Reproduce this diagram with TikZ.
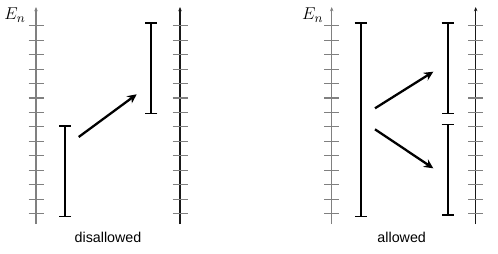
\documentclass[tikz,border=0pt]{standalone}
\usepackage{fontspec}
\setsansfont{Liberation Sans}
\usetikzlibrary{arrows.meta}

\begin{document}
\begin{tikzpicture}[
  x=0.7pt, y=-0.7pt, >=Stealth,
  axisline/.style={line width=0.8pt, -{Stealth[length=3pt, width=2.4pt]}},
  rung/.style={line width=0.8pt, draw=black!50},
  band/.style={line width=1.2pt, {Bar[width=8.4pt]}-{Bar[width=8.4pt]}},
  jump/.style={line width=1.6pt, -{Stealth[length=6.5pt, width=6.2pt]}},
  caption/.style={font=\sffamily},
  levelname/.style={font=\fontsize{13}{15}\selectfont}
]
  \useasboundingbox (0,0) rectangle (498,253);

  % energy axes with level ticks
  \foreach \ax/\col [count=\k] in {36/black!50, 180/black!90, 331.7/black!50, 475.7/black!90}{
    \coordinate (axbot\k) at (\ax,224);
    \coordinate (axtop\k) at (\ax,7);
    \draw[axisline, \col] (axbot\k) -- (axtop\k);
    \foreach \i in {0,...,13}
      \draw[rung] (\ax-7.5,25.7+\i*14.46) -- (\ax+7.5,25.7+\i*14.46);
  }

  % axis labels
  \node[levelname] (enA) at (15,15) {$E_n$};
  \node[levelname] (enB) at (312.7,15) {$E_n$};

  % LEFT: disallowed
  \coordinate (loAtop) at (65,125);
  \coordinate (loAbot) at (65,217.3);
  \coordinate (hiAtop) at (151.3,22.3);
  \coordinate (hiAbot) at (151.3,114.3);
  \draw[band] (loAbot) -- (loAtop);
  \draw[band] (hiAbot) -- (hiAtop);

  \coordinate (jumpA) at (78.7,137);
  \coordinate (landA) at (136.7,94.3);
  \draw[jump] (jumpA) -- (landA);

  \node[caption] (capA) at (108,237) {disallowed};

  % RIGHT: allowed
  \coordinate (wideBtop) at (360.7,22.3);
  \coordinate (wideBbot) at (360.7,217.3);
  \coordinate (upBtop) at (447.7,22.3);
  \coordinate (upBbot) at (447.7,114.3);
  \coordinate (dnBtop) at (447.7,123.7);
  \coordinate (dnBbot) at (447.7,216);
  \draw[band] (wideBbot) -- (wideBtop);
  \draw[band] (upBbot) -- (upBtop);
  \draw[band] (dnBbot) -- (dnBtop);

  \coordinate (jumpBup) at (375,108.3);
  \coordinate (landBup) at (433.3,71.7);
  \coordinate (jumpBdn) at (375,129.3);
  \coordinate (landBdn) at (433.3,168.3);
  \draw[jump] (jumpBup) -- (landBup);
  \draw[jump] (jumpBdn) -- (landBdn);

  \node[caption] (capB) at (401.7,237) {allowed};
\end{tikzpicture}
\end{document}
